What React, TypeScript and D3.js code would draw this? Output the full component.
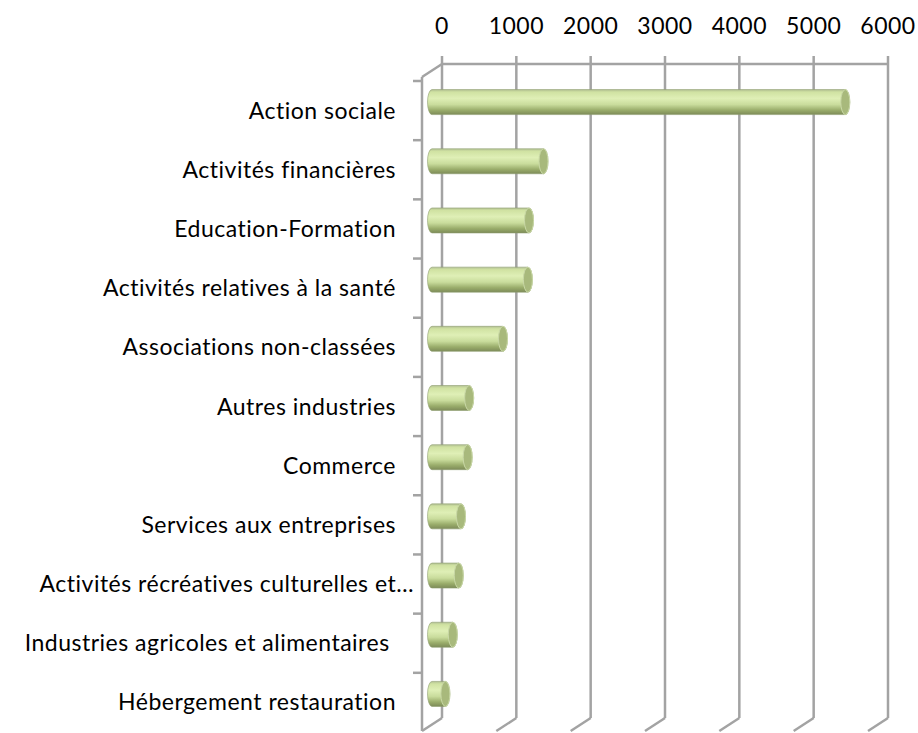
import { useEffect, useRef } from 'react';
import * as d3 from 'd3';

const categories = [
  'Action sociale',
  'Activités financières',
  'Education-Formation',
  'Activités relatives à la santé',
  'Associations non-classées',
  'Autres industries',
  'Commerce',
  'Services aux entreprises',
  'Activités récréatives culturelles et…',
  'Industries agricoles et alimentaires ',
  'Hébergement restauration',
];

const values = [5560, 1500, 1305, 1290, 955, 500, 480, 390, 360, 280, 180];

const ticks = [0, 1000, 2000, 3000, 4000, 5000, 6000];

export default function App() {
  const svgRef = useRef<SVGSVGElement>(null);

  useEffect(() => {
    if (!svgRef.current) return;
    document.body.style.margin = '0';

    const width = 918;
    const height = 733;
    // 3D depth offset, back plane -> front plane
    const dx = -20;
    const dy = 13;

    const svg = d3.select(svgRef.current);
    svg.selectAll('*').remove();
    svg.attr('width', width).attr('height', height);

    const x = d3.scaleLinear().domain([0, 6000]).range([442, 888]);
    // category band on the front (left) wall
    const y = d3.scaleBand<string>().domain(categories).range([81, 732]);

    const gridColor = '#a3a3a3';
    const font = 'Lato, "Open Sans", sans-serif';

    // gradient for cylinders
    const defs = svg.append('defs');
    const grad = defs.append('linearGradient')
      .attr('id', 'cyl')
      .attr('x1', 0).attr('x2', 0).attr('y1', 0).attr('y2', 1);
    [
      ['0%', '#b3c193'],
      ['10%', '#d0e2a2'],
      ['35%', '#dfefb6'],
      ['60%', '#c9dc9c'],
      ['82%', '#9aad6b'],
      ['100%', '#7d8b58'],
    ].forEach(([o, c]) => grad.append('stop').attr('offset', o).attr('stop-color', c));

    const grid = svg.append('g')
      .attr('stroke', gridColor)
      .attr('stroke-width', 2.5)
      .attr('fill', 'none');

    const top = 64;
    const bottom = 718;

    // back wall vertical gridlines + floor feet + top ticks
    ticks.forEach(t => {
      grid.append('line')
        .attr('x1', x(t)).attr('x2', x(t))
        .attr('y1', top - 8).attr('y2', bottom);
      grid.append('line')
        .attr('x1', x(t)).attr('y1', bottom)
        .attr('x2', x(t) + dx).attr('y2', bottom + dy);
    });

    // top value axis line
    grid.append('line')
      .attr('x1', x(0)).attr('x2', x(6000))
      .attr('y1', top).attr('y2', top);
    grid.append('line')
      .attr('x1', x(0)).attr('y1', top)
      .attr('x2', x(0) + dx).attr('y2', top + dy);

    // front category axis
    grid.append('line')
      .attr('x1', x(0) + dx).attr('x2', x(0) + dx)
      .attr('y1', top + dy).attr('y2', bottom + dy);
    categories.forEach(c => {
      const yy = y(c)!;
      grid.append('line')
        .attr('x1', x(0) + dx - 9).attr('x2', x(0) + dx)
        .attr('y1', yy).attr('y2', yy);
    });

    // value tick labels
    svg.append('g')
      .selectAll('text')
      .data(ticks)
      .join('text')
      .attr('x', d => x(d))
      .attr('y', 34)
      .attr('text-anchor', 'middle')
      .attr('font-family', font)
      .attr('font-size', 23)
      .attr('letter-spacing', 0.5)
      .attr('fill', '#000')
      .text(d => d);

    // category labels
    svg.append('g')
      .selectAll('text')
      .data(categories)
      .join('text')
      .attr('x', d => (d.endsWith('…') ? 414 : 396))
      .attr('y', d => y(d)! + y.bandwidth() / 2)
      .attr('dy', '0.35em')
      .attr('text-anchor', 'end')
      .attr('font-family', font)
      .attr('font-size', 23)
      .attr('letter-spacing', 0.5)
      .attr('fill', '#000')
      .style('white-space', 'pre')
      .text(d => d);

    // cylinders at mid depth
    const ry = 12.5;
    const rx = 4.5;
    const bars = svg.append('g');
    categories.forEach((c, i) => {
      const cy = y(c)! + y.bandwidth() / 2 - dy / 2 - 2;
      const x0 = x(0) + dx / 2;
      const x1 = x(values[i]) + dx / 2;
      const yt = cy - ry;
      const yb = cy + ry;
      bars.append('path')
        .attr('d', `M${x0},${yt} L${x1},${yt} A${rx},${ry} 0 0 1 ${x1},${yb} L${x0},${yb} A${rx},${ry} 0 0 1 ${x0},${yt} Z`)
        .attr('fill', 'url(#cyl)')
        .attr('stroke', '#8f9d70')
        .attr('stroke-width', 0.6);
      bars.append('ellipse')
        .attr('cx', x1).attr('cy', cy)
        .attr('rx', rx).attr('ry', ry)
        .attr('fill', '#a8b97c')
        .attr('stroke', '#c9d8a6')
        .attr('stroke-width', 1);
    });
  }, []);

  return <svg ref={svgRef}></svg>;
}
